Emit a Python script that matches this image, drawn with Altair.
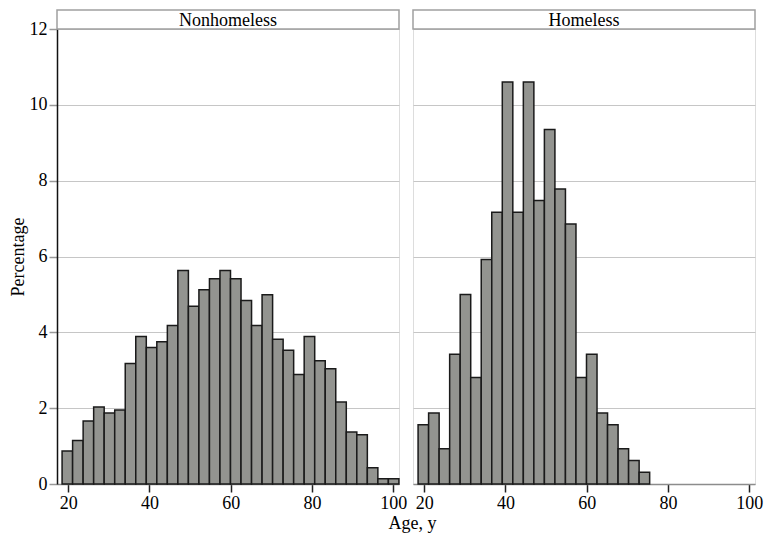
import altair as alt
import pandas as pd

# ---- data ----
panel_titles = ["Nonhomeless", "Homeless"]
BIN_START = 18.5      # first bin edge (years)
BIN_WIDTH = 2.59      # bin width (years)
nonhomeless_pct = [0.87, 1.15, 1.66, 2.03, 1.87, 1.95, 3.18, 3.89, 3.60, 3.75,
                   4.18, 5.63, 4.69, 5.12, 5.41, 5.63, 5.41, 4.84, 4.18, 4.99,
                   3.82, 3.53, 2.89, 3.89, 3.25, 3.04, 2.16, 1.37, 1.30, 0.43,
                   0.14, 0.14]
homeless_pct = [1.56, 1.87, 0.93, 3.42, 5.00, 2.81, 5.92, 7.17, 10.60, 7.17,
                10.60, 7.48, 9.35, 7.78, 6.86, 2.81, 3.42, 1.87, 1.56, 0.93,
                0.62, 0.31]
y_ticks = [0, 2, 4, 6, 8, 10, 12]
x_ticks = [20, 40, 60, 80, 100]
x_domain = [17.25, 101.4]
y_domain = [0, 12]

FONT = "Liberation Serif"
W, H = 342, 455
SPACING = 14
HEADER_H = 19
FILL = "#939490"
GRID = "#c6c6c6"


def hist_df(pcts):
    starts = [BIN_START + i * BIN_WIDTH for i in range(len(pcts))]
    return pd.DataFrame({
        "start": starts,
        "end": [s + BIN_WIDTH for s in starts],
        "pct": pcts,
        "zero": [0] * len(pcts),
    })


def panel(pcts, title, first):
    df = hist_df(pcts)
    x_axis = alt.Axis(
        values=x_ticks, grid=False, domainColor="#8c8c8c", domainWidth=1.5,
        tickColor="#222222", tickSize=8, tickWidth=1.5,
        labelFontSize=18, labelFont=FONT, labelColor="black", labelPadding=2,
        title="Age, y" if first else None,
        titleFont=FONT, titleFontSize=18, titleFontWeight="normal",
        titleColor="black", titleX=(2 * W + SPACING) / 2 + 6, titleY=44,
        titleAlign="center", titleBaseline="alphabetic",
    )
    if first:
        y_axis = alt.Axis(
            values=y_ticks, grid=True, gridColor=GRID, gridWidth=1.2,
            domainColor="#111111", domainWidth=1.5,
            tickColor="#999999", tickSize=8, tickWidth=1.5,
            labelFontSize=18, labelFont=FONT, labelColor="black", labelPadding=2,
            title="Percentage", titleFont=FONT, titleFontSize=18,
            titleFontWeight="normal", titleColor="black", titlePadding=2,
        )
    else:
        y_axis = alt.Axis(
            values=y_ticks, grid=True, gridColor=GRID, gridWidth=1.2,
            domain=False, ticks=False, labels=False, title=None,
        )
    bars = alt.Chart(df).mark_rect(
        fill=FILL, stroke="#1a1a1a", strokeWidth=1.5
    ).encode(
        x=alt.X("start:Q", scale=alt.Scale(domain=x_domain, nice=False, zero=False), axis=x_axis),
        x2="end:Q",
        y=alt.Y("pct:Q", scale=alt.Scale(domain=y_domain, nice=False), axis=y_axis),
        y2="zero:Q",
    )
    hdr = alt.Chart(pd.DataFrame({"label": [title]}))
    box = hdr.mark_rect(fill="white", stroke="#a0a0a0", strokeWidth=1.5).encode(
        x=alt.value(0), x2=alt.value(W), y=alt.value(-HEADER_H), y2=alt.value(0)
    )
    txt = hdr.mark_text(font=FONT, fontSize=18, baseline="middle", align="center",
                        color="black").encode(
        x=alt.value(W / 2), y=alt.value(-HEADER_H / 2 + 1), text="label:N"
    )
    return alt.layer(bars, box, txt).properties(width=W, height=H)


chart = alt.hconcat(
    panel(nonhomeless_pct, panel_titles[0], True),
    panel(homeless_pct, panel_titles[1], False),
    spacing=SPACING, bounds="flush",
).properties(
    padding={"left": 0, "top": 0, "right": 0, "bottom": 0}
).configure_view(strokeWidth=0).configure(background="white")

chart.save("out.html", embed_options={"renderer": "svg", "actions": False})
